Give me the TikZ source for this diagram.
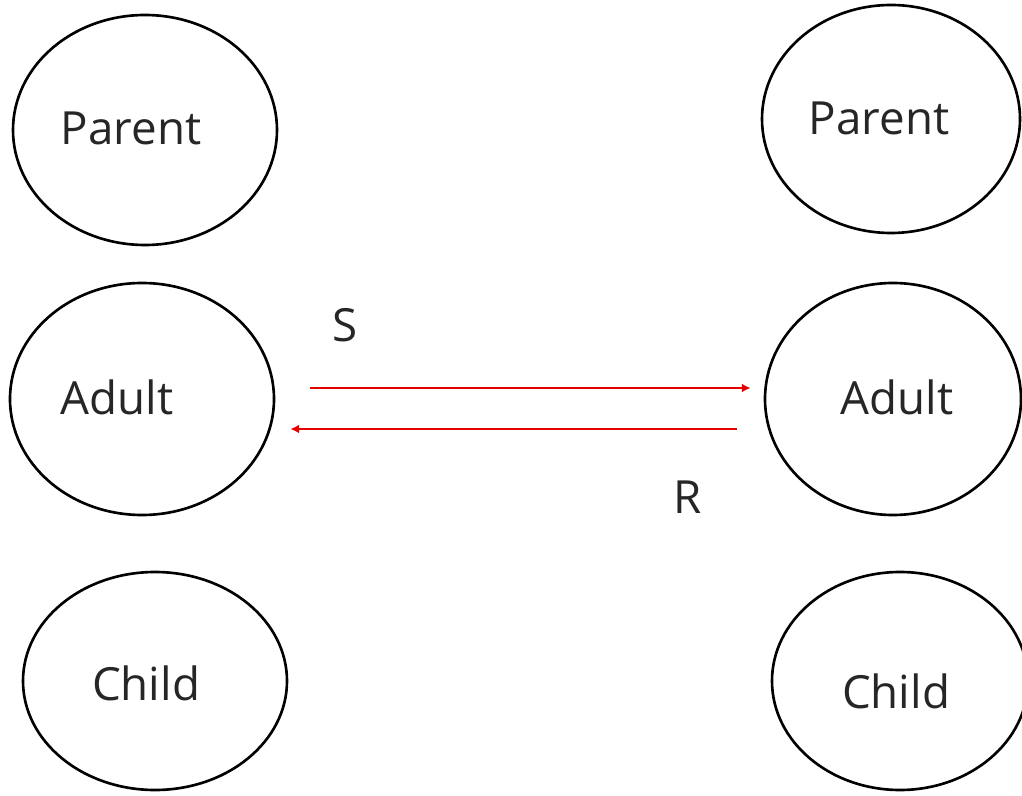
\documentclass[tikz,border=0pt]{standalone}
\usepackage{fontspec}
\setmainfont{Open Sans}
\usetikzlibrary{shapes.geometric,arrows.meta}
\tikzset{
  state/.style={ellipse, draw=black, line width=1.5pt, inner sep=0pt},
  statelabel/.style={font=\fontsize{26}{30}\selectfont, text=black!85},
  flow/.style={draw=red!90!black, line width=1.6pt, -{Latex[length=5pt,width=5pt]}},
  flowlabel/.style={font=\fontsize{26}{30}\selectfont, text=black!85},
}
\begin{document}
\begin{tikzpicture}
\useasboundingbox (0,0) rectangle (20.44,15.90);
\node[state, minimum width=5.28cm, minimum height=4.60cm] (lparent) at (2.90,13.30) {};
\node[state, minimum width=5.28cm, minimum height=4.64cm] (ladult) at (2.84,7.92) {};
\node[state, minimum width=5.28cm, minimum height=4.36cm] (lchild) at (3.10,2.28) {};
\node[state, minimum width=5.16cm, minimum height=4.56cm] (rparent) at (17.82,13.52) {};
\node[state, minimum width=5.12cm, minimum height=4.64cm] (radult) at (17.86,7.92) {};
\node[state, minimum width=5.12cm, minimum height=4.36cm] (rchild) at (18.00,2.28) {};
\node[statelabel] (lparenttext) at (2.62,13.34) {Parent};
\node[statelabel] (ladulttext) at (2.34,7.96) {Adult};
\node[statelabel] (lchildtext) at (2.92,2.24) {Child};
\node[statelabel] (rparenttext) at (17.58,13.54) {Parent};
\node[statelabel] (radulttext) at (17.94,7.96) {Adult};
\node[statelabel] (rchildtext) at (17.92,2.08) {Child};
\draw[flow, shorten <=0.70cm, shorten >=0.26cm] ([yshift=0.22cm]ladult.east) -- ([yshift=0.22cm]radult.west);
\draw[flow, shorten <=0.54cm, shorten >=0.30cm] ([yshift=-0.60cm]radult.west) -- ([yshift=-0.60cm]ladult.east);
\node[flowlabel] (slabel) at (6.90,9.40) {S};
\node[flowlabel] (rlabel) at (13.76,5.96) {R};
\end{tikzpicture}
\end{document}
